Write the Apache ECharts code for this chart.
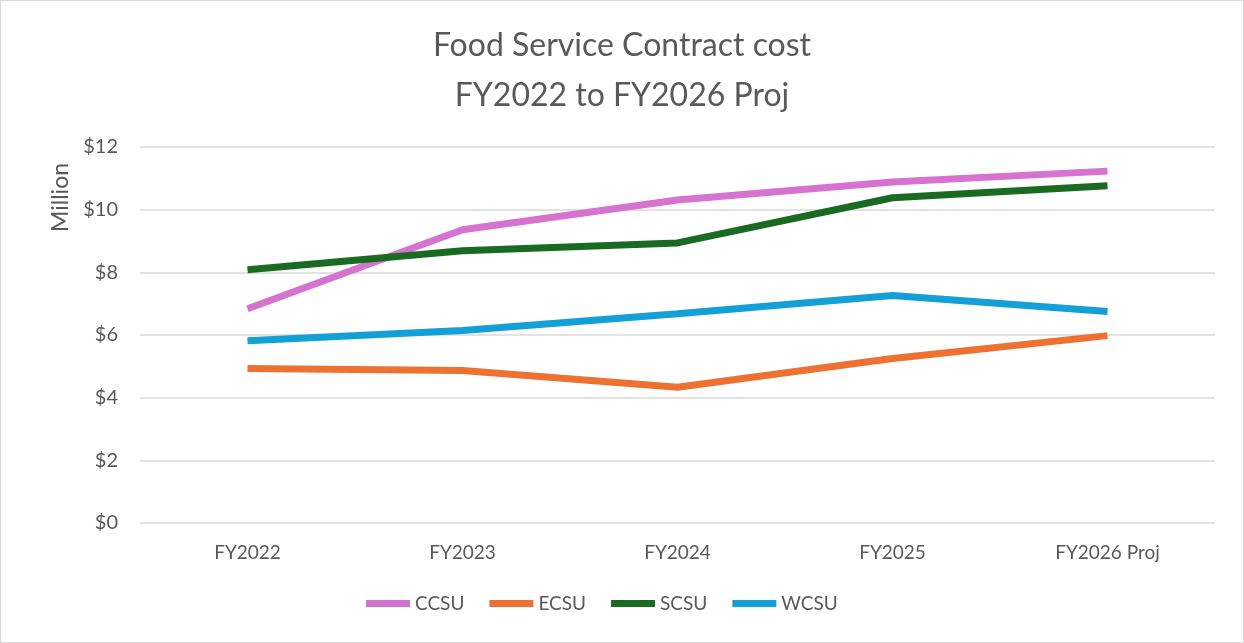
<!DOCTYPE html>
<html>
<head>
<meta charset="utf-8">
<script src="https://cdn.jsdelivr.net/npm/echarts@6/dist/echarts.min.js"></script>
<style>
  html, body { margin: 0; padding: 0; background: #fff; }
  #main { width: 1242px; height: 641px; border: 1px solid #d9d9d9; }
</style>
</head>
<body>
<div id="main"></div>
<script>
// categories and values (million $)
var years = ['FY2022', 'FY2023', 'FY2024', 'FY2025', 'FY2026 Proj'];
var ccsu = [6.84, 9.36, 10.31, 10.88, 11.23];
var ecsu = [4.93, 4.87, 4.33, 5.25, 5.98];
var scsu = [8.08, 8.69, 8.94, 10.38, 10.76];
var wcsu = [5.82, 6.14, 6.68, 7.26, 6.75];
var seriesNames = ['CCSU', 'ECSU', 'SCSU', 'WCSU'];
var seriesColors = ['#D672CF', '#ED7232', '#1A6B22', '#12A0D7'];

var font = 'Lato, "Open Sans", sans-serif';

function makeLine(name, data, color) {
  return {
    name: name,
    type: 'line',
    data: data,
    symbol: 'none',
    lineStyle: { color: color, width: 7, cap: 'butt' },
    itemStyle: { color: color }
  };
}

var chart = echarts.init(document.getElementById('main'));
var option = {
  animation: false,
  textStyle: { fontFamily: font },
  title: {
    text: 'Food Service Contract cost\nFY2022 to FY2026 Proj',
    left: 'center',
    top: 15,
    textStyle: { fontFamily: font, fontSize: 32, fontWeight: 'normal', color: '#595959', lineHeight: 50 }
  },
  graphic: [{
    type: 'text',
    left: 48,
    top: 162,
    rotation: Math.PI / 2,
    style: { text: 'Million', font: '23px ' + font, fill: '#595959' }
  }],
  legend: {
    bottom: 24,
    left: 360,
    itemWidth: 44,
    itemHeight: 7,
    itemGap: 25,
    icon: 'rect',
    textStyle: { fontFamily: font, fontSize: 19, color: '#595959' },
    data: seriesNames
  },
  grid: { left: 139, right: 28, top: 146, bottom: 119 },
  xAxis: {
    type: 'category',
    data: years,
    boundaryGap: true,
    axisLine: { show: false },
    axisTick: { show: false },
    axisLabel: { fontFamily: font, fontSize: 19, color: '#595959', margin: 20 }
  },
  yAxis: {
    type: 'value',
    min: 0,
    max: 12,
    interval: 2,
    axisLabel: { fontFamily: font, fontSize: 20, color: '#595959', formatter: '${value}', margin: 22 },
    splitLine: { lineStyle: { color: '#d9d9d9', width: 1.5 } },
    axisLine: { show: false },
    axisTick: { show: false }
  },
  series: [
    makeLine(seriesNames[0], ccsu, seriesColors[0]),
    makeLine(seriesNames[1], ecsu, seriesColors[1]),
    makeLine(seriesNames[2], scsu, seriesColors[2]),
    makeLine(seriesNames[3], wcsu, seriesColors[3])
  ]
};
chart.setOption(option);
</script>
</body>
</html>
